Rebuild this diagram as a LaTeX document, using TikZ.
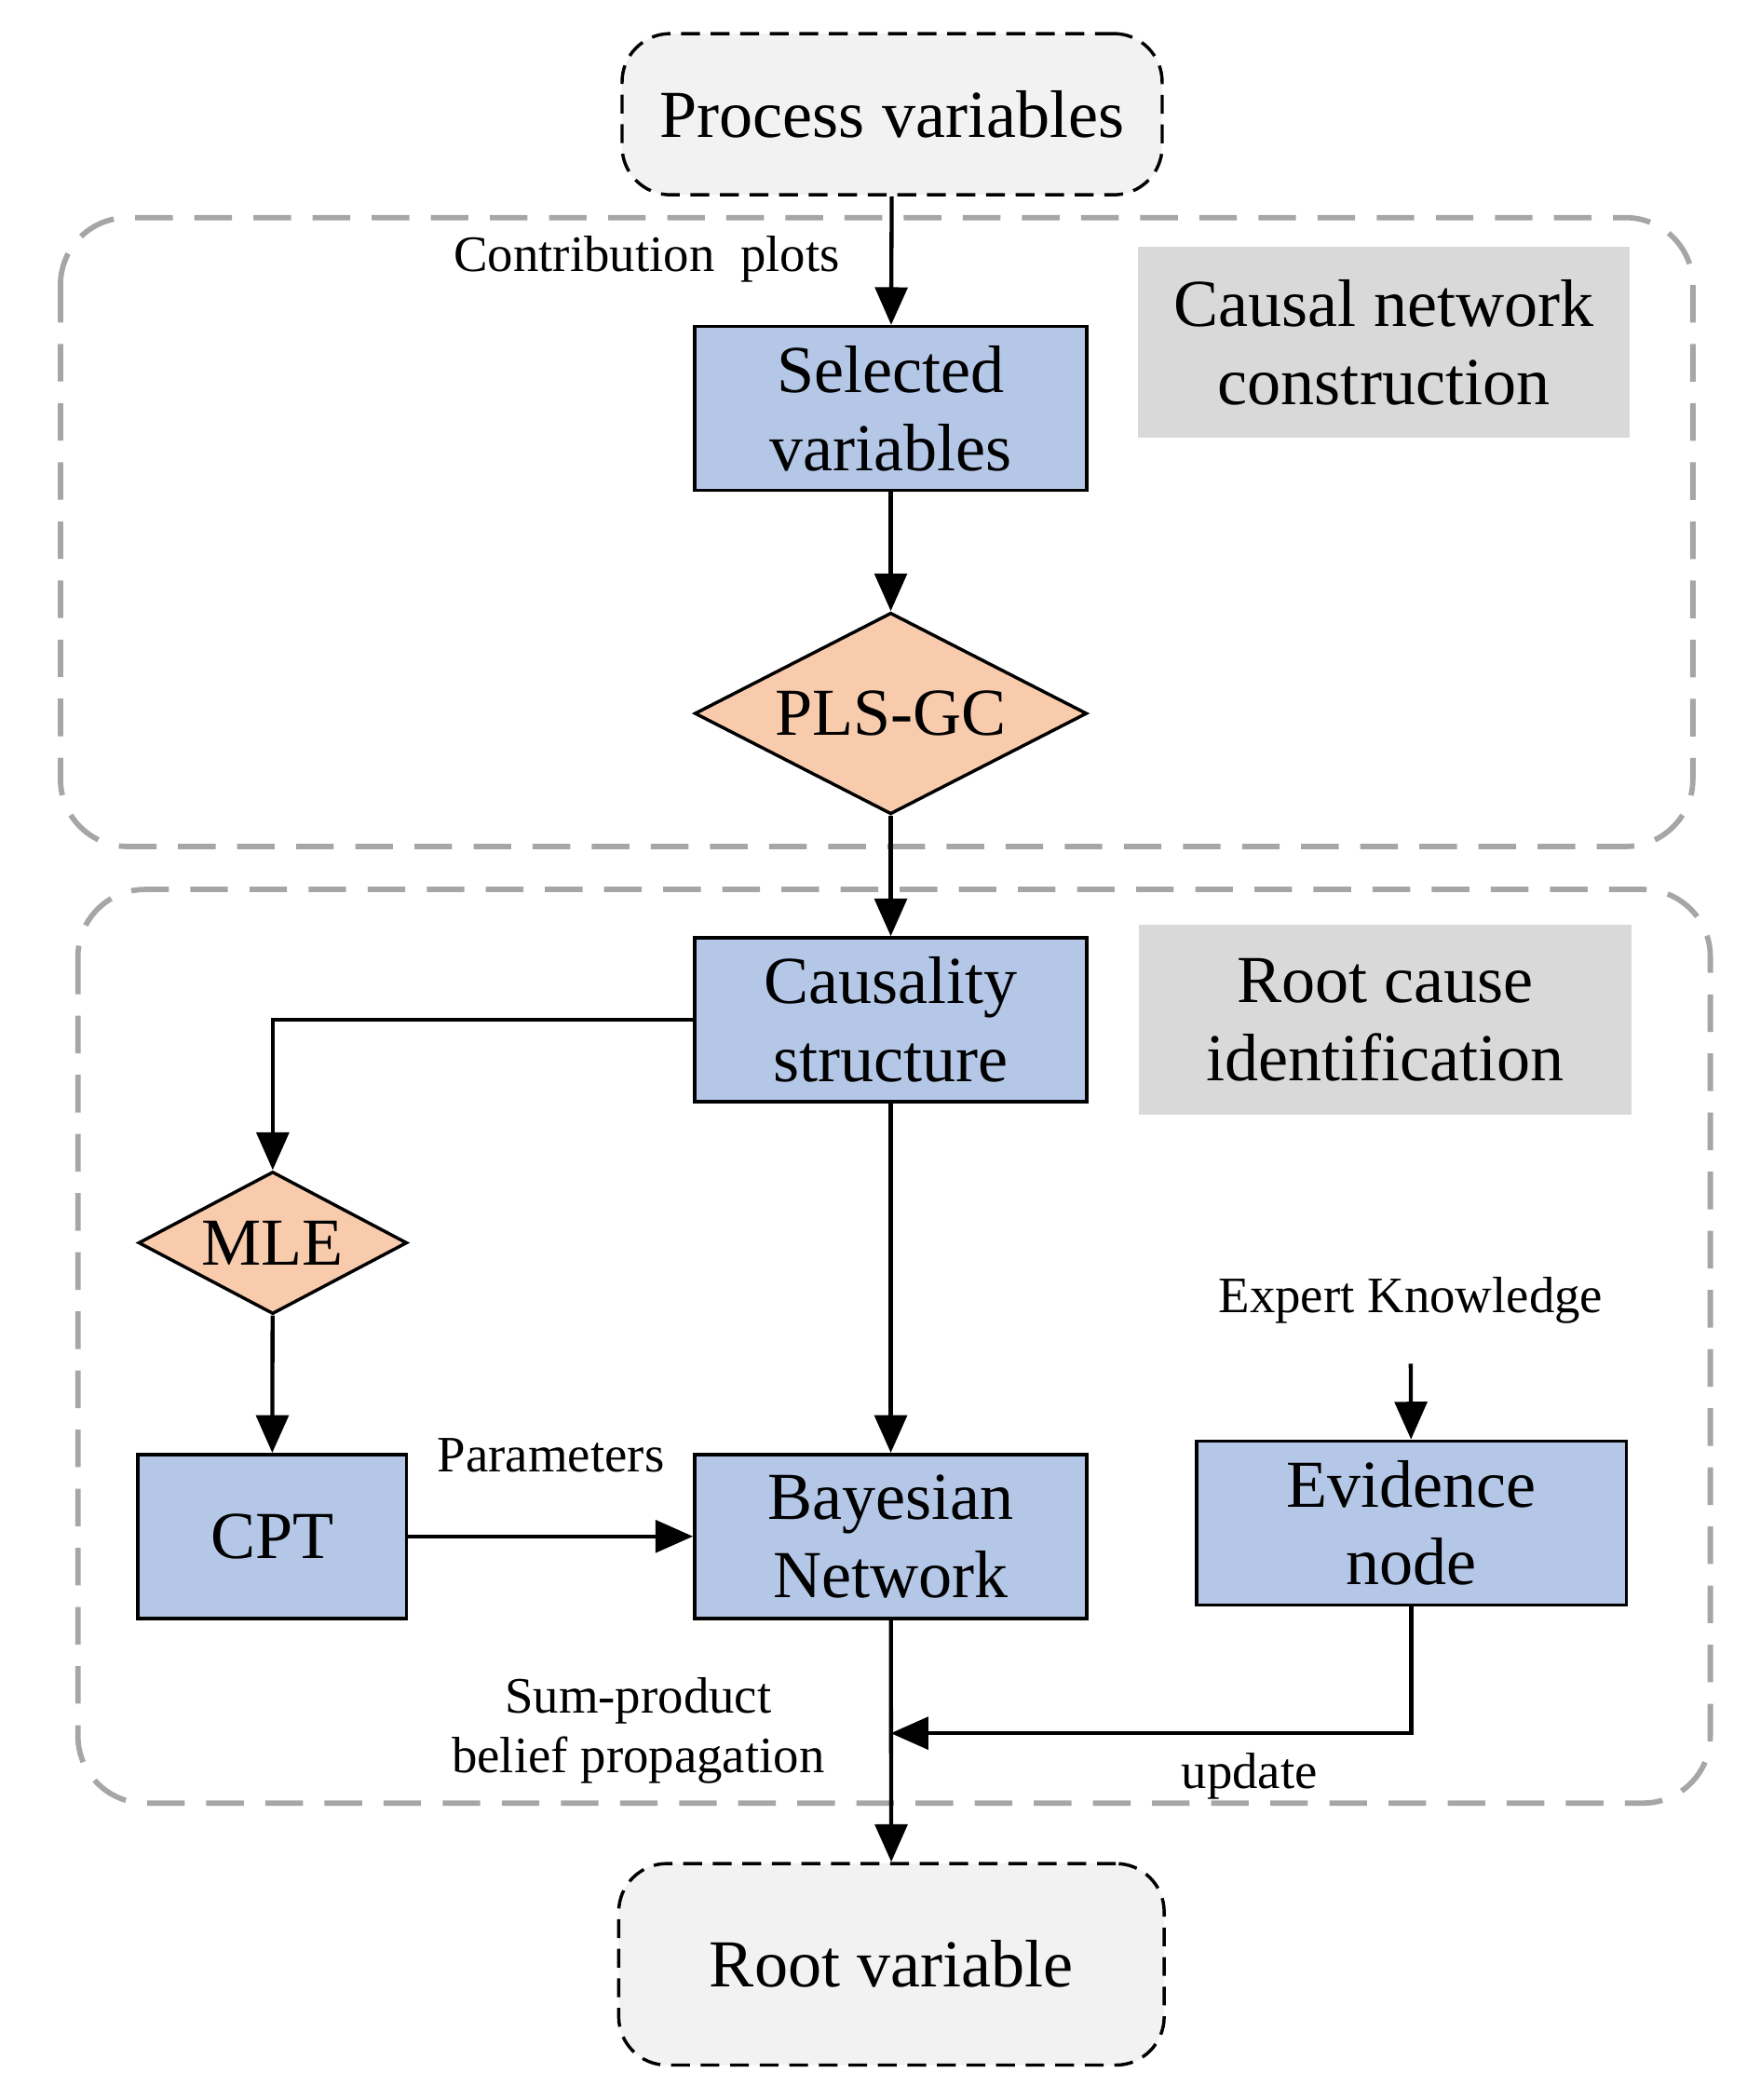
\documentclass[tikz,border=0pt]{standalone}
\usepackage{fontspec}
\setmainfont{Liberation Serif}
\usetikzlibrary{shapes.geometric,arrows.meta}
\definecolor{blu}{HTML}{B4C7E7}
\definecolor{ora}{HTML}{F8CBAD}
\definecolor{lg}{HTML}{F2F2F2}
\definecolor{tg}{HTML}{D9D9D9}
\definecolor{rg}{HTML}{A6A6A6}
\begin{document}
\begin{tikzpicture}[x=0.5pt,y=-0.5pt,
  big/.style={font=\fontsize{25}{29}\selectfont},
  sm/.style={font=\fontsize{19}{22}\selectfont},
  box/.style={draw,line width=1.2pt,fill=blu,minimum width=146pt,minimum height=61pt,big,align=center,inner sep=0pt},
  dia/.style={draw,line width=1.2pt,fill=ora,diamond,aspect=1.95,inner sep=0pt,big},
  term/.style={draw,dashed,dash pattern=on 7pt off 4pt,line width=1.2pt,fill=lg,rounded corners=18pt,big,inner sep=0pt},
  reg/.style={draw=rg,line width=2pt,dash pattern=on 14pt off 8pt,rounded corners=25pt},
  lab/.style={fill=tg,big,align=center,inner sep=0pt},
  arr/.style={line width=1.5pt,-{Triangle[length=14pt,width=12pt]}}]
\useasboundingbox (0,0) rectangle (1300,1563);
\draw[reg] (45,162) rectangle (1260,630);
\draw[reg] (58,662) rectangle (1273,1342);
\node[term,minimum width=201pt,minimum height=60pt] (pv) at (664,85) {Process variables};
\node[lab,minimum width=183pt,minimum height=71pt] (l1) at (1030,255) {Causal network\\construction};
\node[box] (sel) at (663,304) {Selected\\variables};
\node[dia,minimum width=146pt,minimum height=75pt] (pls) at (663,531) {PLS-GC};
\node[lab,minimum width=183pt,minimum height=71pt] (l2) at (1031,759) {Root cause\\identification};
\node[box] (cs) at (663,759) {Causality\\structure};
\node[dia,minimum width=100pt,minimum height=53pt] (mle) at (203,925) {MLE};
\node[box,minimum width=100pt] (cpt) at (202.5,1143.5) {CPT};
\node[box] (bn) at (663,1143.5) {Bayesian\\Network};
\node[box,minimum width=160pt] (ev) at (1050.5,1133.5) {Evidence\\node};
\node[term,minimum width=203pt,minimum height=75pt] (rv) at (663.5,1462) {Root variable};
\node[sm] (ek) at (1050,968) {Expert Knowledge};
\coordinate (ekb) at (1050,1015);
\node[sm,anchor=east] (cp) at (632,193) {Contribution\ \ plots};
\node[sm] (par) at (410,1083) {Parameters};
\node[sm,align=center] (sp) at (475,1288) {Sum-product\\belief propagation};
\node[sm] (up) at (930,1322) {update};
\coordinate (jn) at (663,1290);
\draw[arr] (pv) -- (sel);
\draw[arr] (sel) -- (pls);
\draw[arr] (pls) -- (cs);
\draw[arr] (cs.west) -| (mle.north);
\draw[arr] (mle) -- (cpt);
\draw[arr] (cs) -- (bn);
\draw[arr] (cpt) -- (bn);
\draw[arr] (bn) -- (rv);
\draw[arr] (ekb) -- (ev);
\draw[arr] (ev.south) |- (jn);
\end{tikzpicture}
\end{document}
